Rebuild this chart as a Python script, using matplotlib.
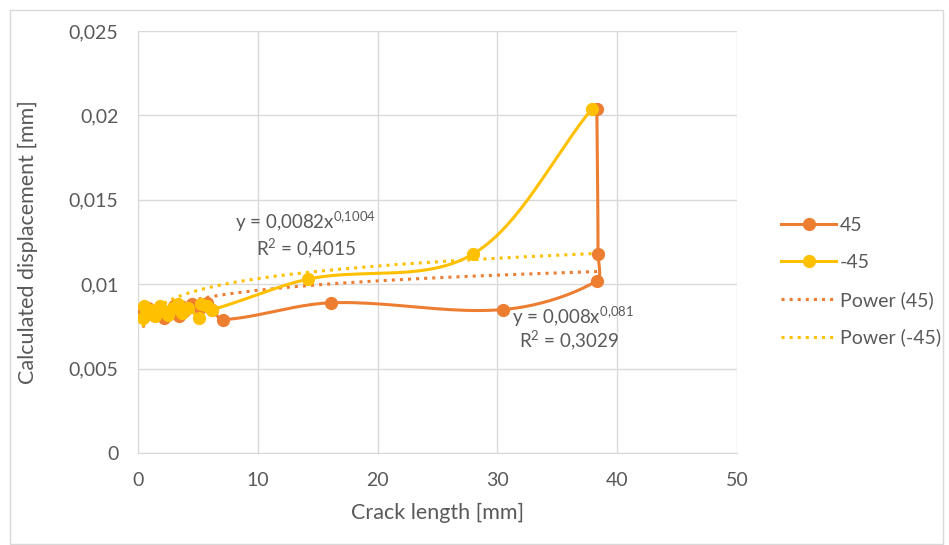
import numpy as np
import matplotlib.pyplot as plt
from matplotlib.patches import Rectangle

plt.rcParams['font.family'] = ['Lato', 'DejaVu Sans']
plt.rcParams['mathtext.fontset'] = 'custom'
plt.rcParams['mathtext.rm'] = 'Lato'
plt.rcParams['mathtext.default'] = 'regular'

# crack length [mm] and calculated displacement [mm]
x_pos = [0.4, 0.8, 1.3, 1.7, 2.2, 2.6, 3.0, 3.4, 3.8, 4.5, 5.2, 5.8, 6.2,
         7.1, 16.1, 30.5, 38.3, 38.4, 38.3]
y_pos = [0.0083, 0.0086, 0.0082, 0.0085, 0.0080, 0.0083, 0.0087, 0.0081,
         0.0084, 0.0088, 0.0086, 0.0089, 0.0085, 0.0079, 0.0089, 0.0085,
         0.0102, 0.0118, 0.0204]
x_neg = [0.4, 0.5, 0.7, 1.0, 1.4, 1.8, 2.1, 2.5, 2.9, 3.3, 3.7, 4.2, 5.1,
         5.3, 5.8, 6.2, 14.2, 28.0, 37.9]
y_neg = [0.0080, 0.0087, 0.0083, 0.0085, 0.0081, 0.0087, 0.0084, 0.0082,
         0.0086, 0.0088, 0.0083, 0.0086, 0.0080, 0.0088, 0.0087, 0.0085,
         0.0103, 0.0118, 0.0204]

# power trendlines as printed on the chart: y = a * x^b
fit_pos = (0.008, 0.081)
fit_neg = (0.0082, 0.1004)

orange = '#ED7D31'
yellow = '#FFC000'
grey = '#595959'


def smooth(xs, ys, n=24):
    # excel-like smoothed line: bezier with tangents scaled by segment length
    p = np.column_stack([xs, ys]).astype(float)
    scale = np.array([1 / 50, 0.55 / 0.025])  # roughly screen proportions
    p = np.vstack([p[0], p, p[-1]])
    out = []
    t = np.linspace(0, 1, n)[:, None]

    def L(a, b):
        return np.hypot(*((b - a) * scale)) + 1e-12

    for i in range(1, len(p) - 2):
        p0, p1, p2, p3 = p[i - 1], p[i], p[i + 1], p[i + 2]
        l01, l12, l23 = L(p0, p1), L(p1, p2), L(p2, p3)
        c1 = p1 + (p2 - p0) * l12 / (l01 + l12) / 3
        c2 = p2 - (p3 - p1) * l12 / (l12 + l23) / 3
        seg = ((1 - t) ** 3) * p1 + 3 * ((1 - t) ** 2) * t * c1 \
            + 3 * (1 - t) * t ** 2 * c2 + t ** 3 * p2
        out.append(seg)
    seg = np.vstack(out)
    return seg[:, 0], seg[:, 1]


fig = plt.figure(figsize=(9.49, 5.45), dpi=100)
ax = fig.add_axes([0.1454, 0.1688, 0.6312, 0.7743])

for xs, ys, c, lab in [(x_pos, y_pos, orange, '45'), (x_neg, y_neg, yellow, '-45')]:
    sx, sy = smooth(xs, ys)
    ax.plot(sx, sy, color=c, lw=2.2, zorder=3)
    ax.plot(xs, ys, 'o', color=c, ms=8.5, zorder=4)
    ax.plot([], [], '-o', color=c, lw=2.2, ms=8.5, label=lab)

for xs, (a, b), c, lab in [(x_pos, fit_pos, orange, 'Power (45)'),
                           (x_neg, fit_neg, yellow, 'Power (-45)')]:
    tx = np.linspace(min(xs), max(xs), 300)
    ax.plot(tx, a * tx ** b, ':', color=c, lw=2.2, zorder=2, label=lab)

ax.text(14.0, 0.01368, 'y = 0,0082x$^{0{,}1004}$', ha='center', va='center', fontsize=13.5, color=grey)
ax.text(14.0, 0.01214, 'R$^{2}$ = 0,4015', ha='center', va='center', fontsize=13.5, color=grey)
ax.text(36.3, 0.00806, 'y = 0,008x$^{0{,}081}$', ha='center', va='center', fontsize=13.5, color=grey)
ax.text(36.0, 0.00669, 'R$^{2}$ = 0,3029', ha='center', va='center', fontsize=13.5, color=grey)

ax.set_xlim(0, 50)
ax.set_ylim(0, 0.025)
ax.set_xticks(np.arange(0, 51, 10))
yt = np.arange(0, 0.0251, 0.005)
ax.set_yticks(yt)
ax.set_yticklabels(['0'] + [('%g' % v).replace('.', ',') for v in yt[1:]])
ax.grid(color='#D9D9D9', lw=1)
ax.set_axisbelow(True)
for s in ['top', 'right']:
    ax.spines[s].set_visible(False)
for s in ['left', 'bottom']:
    ax.spines[s].set_color('#D9D9D9')
ax.tick_params(length=0, labelsize=14, labelcolor=grey, pad=14)
ax.set_xlabel('Crack length [mm]', fontsize=15.5, color=grey, labelpad=10)
ax.set_ylabel('Calculated displacement [mm]', fontsize=15.5, color=grey, labelpad=22)

fig.legend(loc='center left', bbox_to_anchor=(0.805, 0.483), frameon=False,
           fontsize=14, labelcolor=grey, handlelength=2.8, labelspacing=1.02,
           handletextpad=0.2)

fig.patches.append(Rectangle((10 / 949, 0.002), 933 / 949, 1 - 10 / 545 - 0.002,
                             transform=fig.transFigure, fill=False,
                             edgecolor='#D9D9D9', lw=1))

fig.savefig('out.png', dpi=100)
